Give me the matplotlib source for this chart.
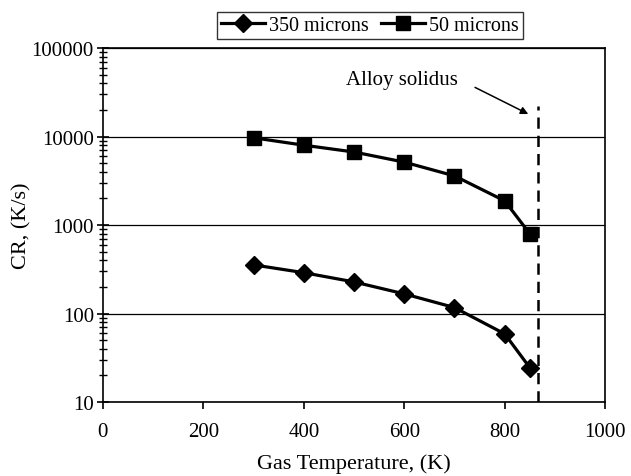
import numpy as np
import matplotlib.pyplot as plt
from matplotlib.ticker import LogLocator, NullFormatter

plt.rcParams['font.family'] = ['Liberation Serif', 'DejaVu Serif']

temps = [300, 400, 500, 600, 700, 800, 850]
cr_350 = [355, 290, 228, 167, 117, 59, 24.5]
cr_50 = [9700, 8000, 6700, 5150, 3600, 1880, 800]
solidus_x = 867

fig = plt.figure(figsize=(6.31, 4.77), dpi=100)
ax = fig.add_axes([0.163, 0.155, 0.796, 0.742])

ax.set_yscale('log')
ax.set_xlim(0, 1000)
ax.set_ylim(10, 100000)
ax.yaxis.grid(True, which='major', color='black', linewidth=0.9)
ax.set_axisbelow(True)

ax.plot(temps, cr_350, color='black', lw=2.3, marker='D', ms=9, label='350 microns')
ax.plot(temps, cr_50, color='black', lw=2.3, marker='s', ms=10, label='50 microns')

# solidus line + label
ax.plot([solidus_x, solidus_x], [10, 22000], color='black', lw=1.8, ls=(0, (4.5, 2.8)))
ax.text(596, 44000, 'Alloy solidus', fontsize=15, ha='center', va='center')
ax.annotate('', xy=(847, 18000), xytext=(741, 36000),
            arrowprops=dict(arrowstyle='-|>', color='black', lw=1.1, shrinkA=0, shrinkB=0,
                            mutation_scale=11))

ax.set_xticks(np.arange(0, 1001, 200))
ax.yaxis.set_minor_locator(LogLocator(base=10, subs=np.arange(2, 10)))
ax.yaxis.set_minor_formatter(NullFormatter())
ax.set_yticks([10, 100, 1000, 10000, 100000])
ax.set_yticklabels(['10', '100', '1000', '10000', '100000'])
ax.tick_params(axis='x', direction='out', length=5, width=1.2, labelsize=15, pad=9)
ax.tick_params(axis='y', which='major', direction='inout', length=9, width=1.2, labelsize=15, pad=2)
ax.tick_params(axis='y', which='minor', direction='inout', length=6, width=1.0)

for s in ax.spines.values():
    s.set_linewidth(1.2)

ax.set_xlabel('Gas Temperature, (K)', fontsize=16, labelpad=9)
ax.set_ylabel('CR, (K/s)', fontsize=16)
ax.yaxis.set_label_coords(-0.143, 0.5)

leg = fig.legend(loc='center', bbox_to_anchor=(0.586, 0.945), ncol=2, fontsize=14.5,
                 frameon=True, fancybox=False, edgecolor='black', handlelength=2.2,
                 borderpad=0.2, columnspacing=0.6, handletextpad=0.2, borderaxespad=0)
leg.get_frame().set_linewidth(1.0)

fig.savefig('out.png', dpi=100)
